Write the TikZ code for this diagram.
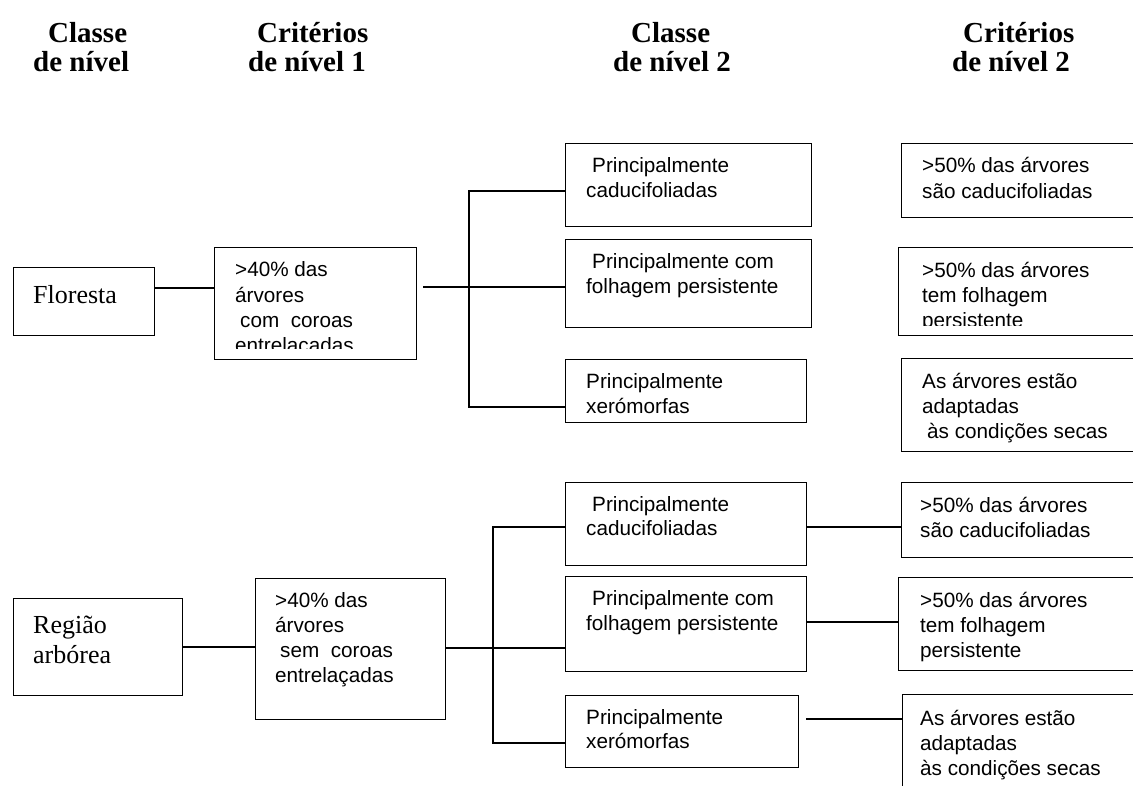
\documentclass[tikz,border=0pt]{standalone}
\usepackage{fontspec}
\setmainfont{Liberation Serif}
\setsansfont{Liberation Sans}
\begin{document}
\begin{tikzpicture}[x=1pt,y=-1pt,
  box/.style={draw, line width=1.4pt, anchor=north west, inner sep=0pt},
  conn/.style={line width=1.3pt},
  txt/.style={anchor=base west, inner sep=0pt, font=\sffamily\fontsize{20.7}{25}\selectfont},
  hd/.style={anchor=base west, inner sep=0pt, font=\rmfamily\bfseries\fontsize{29}{29}\selectfont},
  rmt/.style={anchor=base west, inner sep=0pt, font=\rmfamily\fontsize{26}{30}\selectfont}]
\clip (0,0) rectangle (1133,785);
% headers
\node[hd] (h1a) at (48,42) {Classe};
\node[hd] (h1b) at (33,71) {de nível};
\node[hd] (h2a) at (257,42) {Critérios};
\node[hd] (h2b) at (248,71) {de nível 1};
\node[hd] (h3a) at (631,42) {Classe};
\node[hd] (h3b) at (613,71) {de nível 2};
\node[hd] (h4a) at (963,42) {Critérios};
\node[hd] (h4b) at (952,71) {de nível 2};
% top group boxes
\node[box, minimum width=141pt, minimum height=68pt] (f) at (13,267) {};
\node[box, minimum width=202pt, minimum height=112pt] (c1) at (214,247) {};
\node[box, minimum width=246pt, minimum height=83pt] (k1) at (565,143) {};
\node[box, minimum width=246pt, minimum height=88pt] (k2) at (565,239) {};
\node[box, minimum width=241pt, minimum height=63pt] (k3) at (565,359) {};
\node[box, minimum width=240pt, minimum height=74pt] (r1) at (901,143) {};
\node[box, minimum width=243pt, minimum height=88pt] (r2) at (898,247) {};
\node[box, minimum width=240pt, minimum height=93pt] (r3) at (901,358) {};
% bottom group boxes
\node[box, minimum width=169pt, minimum height=97pt] (g) at (13,598) {};
\node[box, minimum width=190pt, minimum height=141pt] (d1) at (255,578) {};
\node[box, minimum width=241pt, minimum height=83pt] (m1) at (565,482) {};
\node[box, minimum width=241pt, minimum height=95pt] (m2) at (565,576) {};
\node[box, minimum width=233pt, minimum height=72pt] (m3) at (565,695) {};
\node[box, minimum width=240pt, minimum height=75pt] (s1) at (901,482) {};
\node[box, minimum width=243pt, minimum height=93pt] (s2) at (898,577) {};
\node[box, minimum width=240pt, minimum height=100pt] (s3) at (902,694) {};
% trunks
\coordinate (t1) at (469,0);
\coordinate (t2) at (493,0);
% connectors top
\draw[conn] (f.east |- 0,288) -- (c1.west |- 0,288);
\draw[conn] ([xshift=6pt]c1.east |- 0,287) -- (k2.west |- 0,287);
\draw[conn] (k1.west |- 0,191) -| (t1 |- 0,407) -- (k3.west |- 0,407);
% connectors bottom
\draw[conn] (g.east |- 0,647) -- (d1.west |- 0,647);
\draw[conn] (d1.east |- 0,648) -- (m2.west |- 0,648);
\draw[conn] (m1.west |- 0,527) -| (t2 |- 0,743) -- (m3.west |- 0,743);
\draw[conn] (m1.east |- 0,527) -- (s1.west |- 0,527);
\draw[conn] (m2.east |- 0,622) -- (s2.west |- 0,622);
\draw[conn] ([xshift=7pt]m3.east |- 0,719) -- (s3.west |- 0,719);
% texts top
\node[rmt] (tf) at (33,303) {Floresta};
\node[txt] (tc1a) at (235,276) {>40\% das};
\node[txt] (tc1b) at (235,302) {árvores};
\node[txt] (tc1c) at (240,327) {com~~coroas};
\begin{scope}
\clip (214,300) rectangle (416,348);
\node[txt] (tc1d) at (235,352) {entrelaçadas};
\end{scope}
\node[txt] (tk1a) at (592,172) {Principalmente};
\node[txt] (tk1b) at (586,197) {caducifoliadas};
\node[txt] (tk2a) at (592,268) {Principalmente com};
\node[txt] (tk2b) at (586,293) {folhagem persistente};
\node[txt] (tk3a) at (586,388) {Principalmente};
\node[txt] (tk3b) at (586,413) {xerómorfas};
\node[txt] (tr1a) at (922,172) {>50\% das árvores};
\node[txt] (tr1b) at (922,198) {são caducifoliadas};
\node[txt] (tr2a) at (922,277) {>50\% das árvores};
\node[txt] (tr2b) at (922,302) {tem folhagem};
\begin{scope}
\clip (898,290) rectangle (1133,325);
\node[txt] (tr2c) at (922,327) {persistente};
\end{scope}
\node[txt] (tr3a) at (922,388) {As árvores estão};
\node[txt] (tr3b) at (922,413) {adaptadas};
\node[txt] (tr3c) at (927,438) {às condições secas};
% texts bottom
\node[rmt] (tg1) at (33,633) {Região};
\node[rmt] (tg2) at (33,663) {arbórea};
\node[txt] (td1a) at (275,607) {>40\% das};
\node[txt] (td1b) at (275,632) {árvores};
\node[txt] (td1c) at (280,657) {sem~~coroas};
\node[txt] (td1d) at (275,682) {entrelaçadas};
\node[txt] (tm1a) at (592,511) {Principalmente};
\node[txt] (tm1b) at (586,535) {caducifoliadas};
\node[txt] (tm2a) at (592,605) {Principalmente com};
\node[txt] (tm2b) at (586,630) {folhagem persistente};
\node[txt] (tm3a) at (586,724) {Principalmente};
\node[txt] (tm3b) at (586,748) {xerómorfas};
\node[txt] (ts1a) at (920,512) {>50\% das árvores};
\node[txt] (ts1b) at (920,537) {são caducifoliadas};
\node[txt] (ts2a) at (920,607) {>50\% das árvores};
\node[txt] (ts2b) at (920,632) {tem folhagem};
\node[txt] (ts2c) at (920,657) {persistente};
\node[txt] (ts3a) at (920,725) {As árvores estão};
\node[txt] (ts3b) at (920,750) {adaptadas};
\node[txt] (ts3c) at (920,775) {às condições secas};
\end{tikzpicture}
\end{document}
